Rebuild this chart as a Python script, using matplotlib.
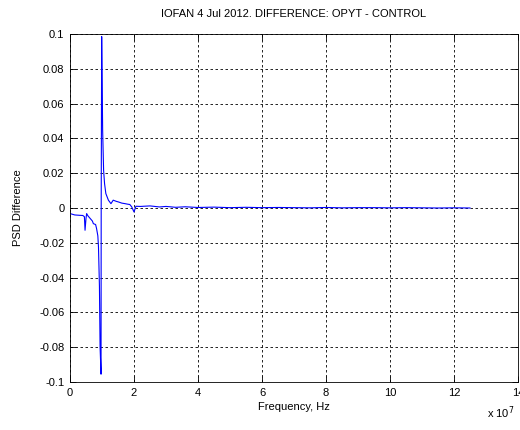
import matplotlib
matplotlib.use("Agg")
import matplotlib.pyplot as plt

plt.rcParams['font.family'] = ['Liberation Sans', 'DejaVu Sans']
plt.rcParams['font.size'] = 8

# frequency (units of 1e7 Hz) and PSD difference
freq = [0.0, 0.15, 0.3, 0.4, 0.45, 0.47, 0.5, 0.52, 0.56, 0.63, 0.7, 0.73, 0.8, 0.83,
        0.87, 0.89, 0.92, 0.94, 0.97, 0.975, 0.99, 1.0, 1.02, 1.05, 1.08, 1.12, 1.2,
        1.28, 1.35, 1.45, 1.51, 1.62, 1.72, 1.8, 1.87, 1.93, 2.0, 2.06, 2.2, 2.5,
        2.8, 3.0, 3.3, 3.6, 4.0, 4.5, 5.0, 5.5, 6.0, 6.5, 7.0, 7.5, 8.0, 8.5, 9.0,
        9.5, 10.0, 10.5, 11.0, 11.5, 12.0, 12.5]
psd = [-0.0032, -0.0040, -0.0042, -0.0043, -0.0050, -0.0128, -0.0060, -0.0032, -0.0045,
       -0.0060, -0.0075, -0.0090, -0.0095, -0.0118, -0.0160, -0.0224, -0.0450, -0.0800,
       -0.0955, 0.0020, 0.0985, 0.0810, 0.0447, 0.0217, 0.0140, 0.0083, 0.0045, 0.0025,
       0.0045, 0.0038, 0.0035, 0.0028, 0.0025, 0.0022, 0.0020, 0.0006, -0.0023, 0.0010,
       0.0009, 0.0012, 0.0006, 0.0009, 0.0004, 0.0007, 0.0003, 0.0005, 0.0002, 0.0004,
       0.0002, 0.0003, 0.0002, 0.0001, 0.0003, 0.0001, 0.0002, 0.0002, 0.0001, 0.0002,
       0.0001, 0.0000, 0.0001, 0.0000]
freq_hz = [f * 1e7 for f in freq]

xticks = [0, 2, 4, 6, 8, 10, 12, 14]
yticks = [-0.1, -0.08, -0.06, -0.04, -0.02, 0, 0.02, 0.04, 0.06, 0.08, 0.1]
ytick_labels = ['-0.1', '-0.08', '-0.06', '-0.04', '-0.02', '0', '0.02', '0.04',
                '0.06', '0.08', '0.1']

fig = plt.figure(figsize=(5.2, 4.3), dpi=100)
ax = fig.add_axes([70 / 520, 48 / 430, 448 / 520, 348 / 430])

ax.plot(freq_hz, psd, color='#0000ff', linewidth=0.8)

ax.set_xlim(0, 14e7)
ax.set_ylim(-0.1, 0.1)
ax.set_xticks([t * 1e7 for t in xticks])
ax.set_xticklabels([str(t) for t in xticks])
ax.set_yticks(yticks)
ax.set_yticklabels(ytick_labels)
ax.tick_params(direction='in', top=True, right=True, length=4, width=0.6, pad=4)
ax.grid(True, color='black', linestyle=(0, (3, 3)), linewidth=0.6)
for sp in ax.spines.values():
    sp.set_linewidth(0.6)

ax.set_title('IOFAN 4 Jul 2012. DIFFERENCE: OPYT - CONTROL', fontsize=8, pad=12)
ax.set_xlabel('Frequency, Hz', labelpad=3)
ax.set_ylabel('PSD Difference', labelpad=12)
fig.text(487 / 520, 1 - 413 / 430, r'x 10$^7$', fontsize=8, ha='left', va='center')

fig.savefig('out.png', dpi=100)
